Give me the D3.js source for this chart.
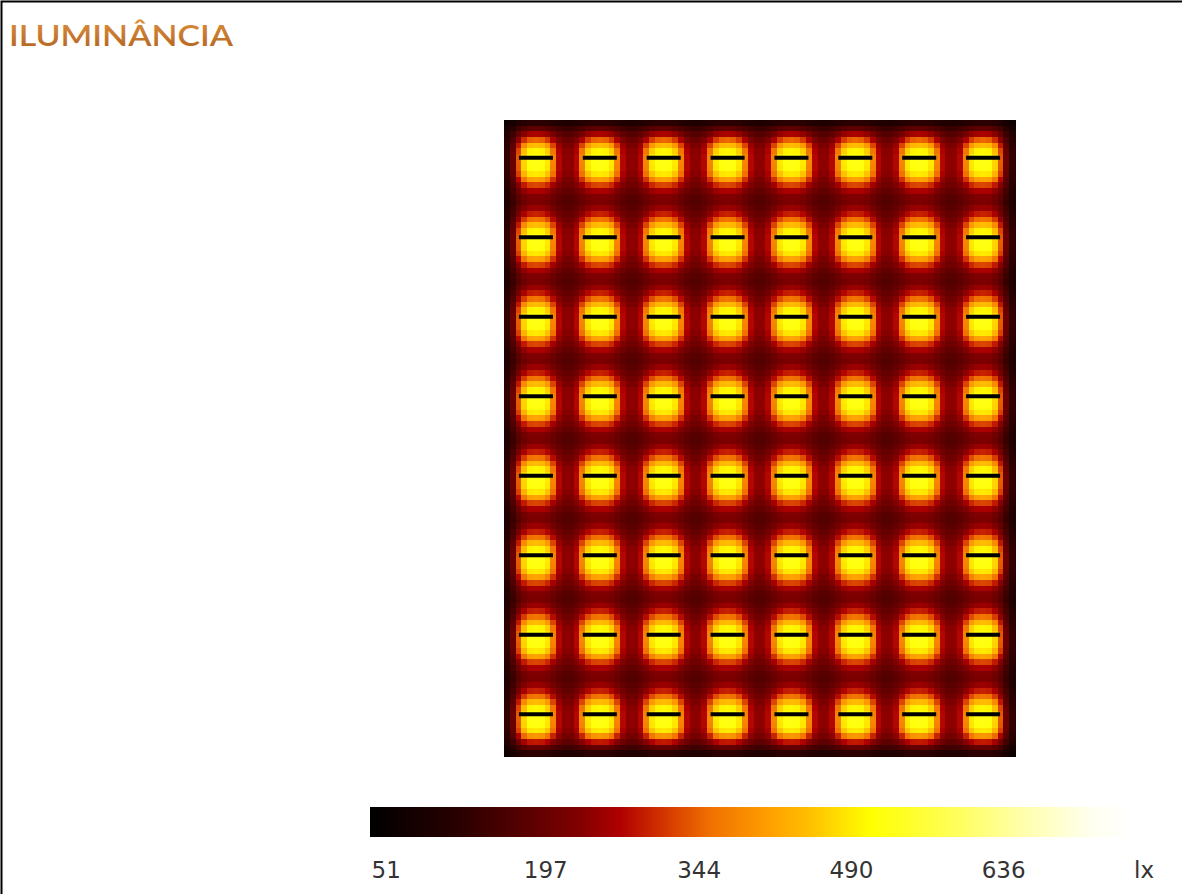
<!DOCTYPE html>
<html>
<head>
<meta charset="utf-8">
<script src="https://cdn.jsdelivr.net/npm/d3@7"></script>
<style>
  body { margin: 0; background: #fff; }
  svg { display: block; }
</style>
</head>
<body>
<svg id="chart" width="1182" height="894"></svg>
<script>

// luminaire layout
const lumCols = 8,
    lumRows = 8;

// illuminance (lx) around one luminaire, 14 rows x 11 cols
const tile = [
    [192,202,218,232,242,245,242,232,218,202,192],
    [202,216,236,258,270,275,270,258,236,216,202],
    [215,232,260,295,312,318,312,295,260,232,215],
    [230,252,298,350,378,384,378,350,298,252,230],
    [245,272,345,425,462,468,462,425,345,272,245],
    [258,290,385,485,520,525,520,485,385,290,258],
    [262,296,400,505,538,542,538,505,400,296,262],
    [262,296,405,512,545,550,545,512,405,296,262],
    [262,296,400,508,540,545,540,508,400,296,262],
    [255,286,380,475,508,512,508,475,380,286,255],
    [242,268,330,400,432,438,432,400,330,268,242],
    [228,248,282,322,342,346,342,322,282,248,228],
    [212,226,248,272,284,288,284,272,248,226,212],
    [198,208,225,240,248,250,248,240,225,208,198]
];

// share of light kept in the cells next to the walls (wall cell first)
const wallFade = [0.45, 0.7, 0.88, 0.96];

// colour ramp of the legend
const rampValues = [51, 137, 202, 250, 291, 329, 377, 435, 473, 531, 617, 681, 744, 782];
const rampColors = ['#000000','#2a0000','#5a0000','#800000','#b00000','#d03000','#f07000',
    '#ffa000','#ffc000','#ffff00','#ffff60','#ffffb0','#fffff0','#ffffff'];

const tickValues = [51, 197, 344, 490, 636];
const unitLabel = 'lx';
const title = 'ILUMINÂNCIA';

(function () {

    const svg = d3.select('#chart'),
        tRows = tile.length,
        tCols = tile[0].length,
        nRows = lumRows * tRows,
        nCols = lumCols * tCols,
        vMin = d3.min(rampValues),
        vMax = d3.max(rampValues);

    // frame
    svg.append('path')
        .attr('d', 'M1.5,894 V1.5 H1182')
        .attr('fill', 'none')
        .attr('stroke', '#000')
        .attr('stroke-width', 2);

    // title
    const defs = svg.append('defs');
    const tg = defs.append('linearGradient')
        .attr('id', 'titleGrad')
        .attr('x1', 0).attr('y1', 0).attr('x2', 0).attr('y2', 1);
    tg.append('stop').attr('offset', '0%').attr('stop-color', '#e0913f');
    tg.append('stop').attr('offset', '100%').attr('stop-color', '#b0621f');

    svg.append('text')
        .attr('x', 9)
        .attr('y', 46)
        .attr('font-family', 'Lato, sans-serif')
        .attr('font-size', 29)
        .attr('font-weight', 600)
        .attr('fill', 'url(#titleGrad)')
        .attr('textLength', 224)
        .attr('lengthAdjust', 'spacingAndGlyphs')
        .text(title);

    // heat map
    const color = d3.scaleLinear()
        .domain(rampValues)
        .range(rampColors)
        .clamp(true);

    const x = d3.scaleLinear().domain([0, nCols]).range([504, 1015]),
        y = d3.scaleLinear().domain([0, nRows]).range([120, 756]);

    function fade(i, n) {
        let d = Math.min(i, n - 1 - i);
        return d < wallFade.length ? wallFade[d] : 1;
    }

    const cells = [];
    for (let r = 0; r < nRows; r++) {
        for (let c = 0; c < nCols; c++) {
            let v = tile[r % tRows][c % tCols];
            v = vMin + (v - vMin) * fade(r, nRows) * fade(c, nCols);
            cells.push({ r: r, c: c, v: v });
        }
    }

    svg.append('g')
        .attr('shape-rendering', 'crispEdges')
        .selectAll('rect')
        .data(cells)
        .enter()
        .append('rect')
        .attr('x', d => x(d.c))
        .attr('y', d => y(d.r))
        .attr('width', x(1) - x(0) + 0.6)
        .attr('height', y(1) - y(0) + 0.6)
        .attr('fill', d => color(d.v));

    // luminaires
    const lx = d3.scaleBand().domain(d3.range(lumCols)).range([504, 1015]),
        ly = d3.scaleBand().domain(d3.range(lumRows)).range([120, 756]);

    const lums = [];
    d3.range(lumRows).forEach(r => d3.range(lumCols).forEach(c => lums.push({ r: r, c: c })));

    svg.append('g')
        .selectAll('line')
        .data(lums)
        .enter()
        .append('line')
        .attr('x1', d => lx(d.c) + lx.bandwidth() / 2 - 17)
        .attr('x2', d => lx(d.c) + lx.bandwidth() / 2 + 17)
        .attr('y1', d => ly(d.r) + ly.bandwidth() / 2 - 2)
        .attr('y2', d => ly(d.r) + ly.bandwidth() / 2 - 2)
        .attr('stroke', '#000')
        .attr('stroke-width', 4);

    // legend
    const legendX = d3.scaleLinear().domain([vMin, vMax]).range([370, 1132.5]);

    const lg = defs.append('linearGradient')
        .attr('id', 'legendGrad')
        .attr('x1', 0).attr('y1', 0).attr('x2', 1).attr('y2', 0);
    lg.selectAll('stop')
        .data(rampValues)
        .enter()
        .append('stop')
        .attr('offset', d => ((d - vMin) / (vMax - vMin) * 100) + '%')
        .attr('stop-color', (d, i) => rampColors[i]);

    svg.append('rect')
        .attr('x', legendX(vMin))
        .attr('y', 807)
        .attr('width', legendX(vMax) - legendX(vMin))
        .attr('height', 30)
        .attr('fill', 'url(#legendGrad)');

    const axis = d3.axisBottom(legendX)
        .tickValues(tickValues.concat([vMax]))
        .tickSize(0)
        .tickPadding(0)
        .tickFormat(d => d === vMax ? unitLabel : d);

    const ax = svg.append('g')
        .attr('transform', 'translate(0,862)')
        .call(axis);

    ax.select('.domain').remove();
    ax.selectAll('text')
        .attr('text-anchor', 'start')
        .attr('dx', 1)
        .attr('font-family', '"DejaVu Sans", Verdana, sans-serif')
        .attr('font-size', 23)
        .attr('fill', '#333');

}());
</script>
</body>
</html>
